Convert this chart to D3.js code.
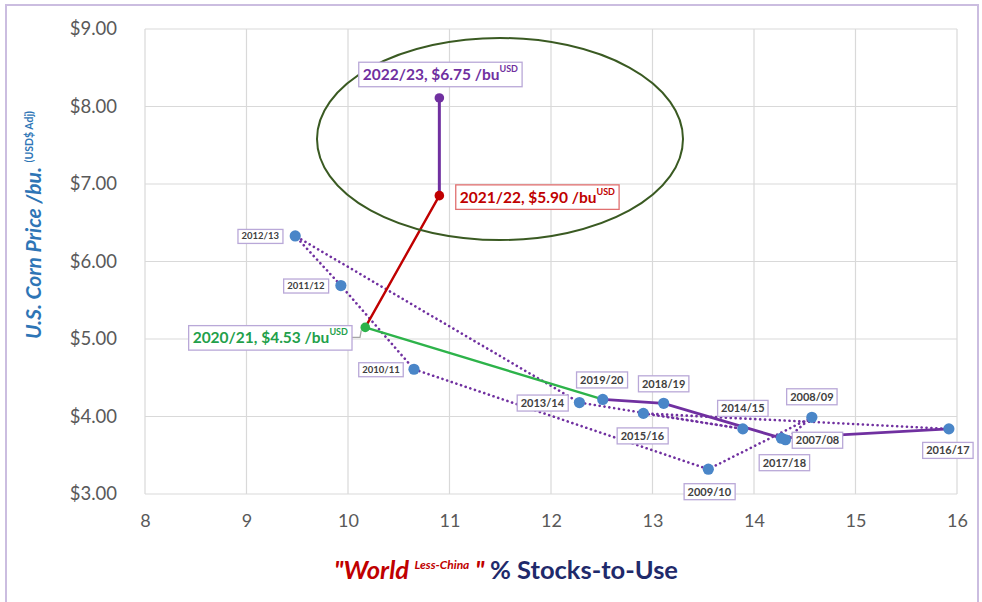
<!DOCTYPE html>
<html><head><meta charset="utf-8">
<script src="https://cdn.jsdelivr.net/npm/d3@7"></script>
<style>
html,body{margin:0;padding:0;background:#fff;}
svg{display:block;}
text{font-family:Lato,"Open Sans",sans-serif;}
</style></head>
<body>
<svg id="chart" width="982" height="602"></svg>
<script>
// ---------------- data ----------------
const seasons = ["2007/08","2008/09","2009/10","2010/11","2011/12","2012/13","2013/14","2014/15","2015/16","2016/17","2017/18","2018/19","2019/20","2020/21","2021/22","2022/23"];
const stocksToUse = [14.31,14.57,13.55,10.65,9.93,9.48,12.28,13.89,12.91,15.92,14.27,13.11,12.51,10.17,10.90,10.90];
const cornPrice = [3.70,3.99,3.32,4.61,5.69,6.33,4.18,3.84,4.04,3.84,3.72,4.17,4.22,5.15,6.85,8.11];
const xTicks = [8,9,10,11,12,13,14,15,16];
const yTicks = [3,4,5,6,7,8,9];
// highlighted seasons with their reported prices
const highlightSeasons = ["2020/21","2021/22","2022/23"];
const highlightPrices = ["$4.53","$5.90","$6.75"];

// ---------------- layout / style ----------------
const svg = d3.select("#chart");
const W = 982, H = 602;
const plot = {left:145, right:957, top:29, bottom:494};
const x = d3.scaleLinear().domain([8,16]).range([plot.left, plot.right]);
const y = d3.scaleLinear().domain([3,9]).range([plot.bottom, plot.top]);
const pts = seasons.map((s,i)=>({s, x:stocksToUse[i], y:cornPrice[i]}));
const byS = Object.fromEntries(pts.map(p=>[p.s,p]));

// outer frame
svg.append("rect").attr("width",W).attr("height",H).attr("fill","#fff");
svg.append("path").attr("d",`M6,${H+5} L6,5 L978,5 L978,${H+5}`)
  .attr("fill","none").attr("stroke","#cbbde0").attr("stroke-width",2);

// gridlines
const g = svg.append("g");
g.selectAll(".gx").data(xTicks).join("line")
  .attr("x1",d=>x(d)).attr("x2",d=>x(d)).attr("y1",plot.top).attr("y2",plot.bottom)
  .attr("stroke","#d9d9d9").attr("stroke-width",1.2);
g.selectAll(".gy").data(yTicks).join("line")
  .attr("x1",plot.left).attr("x2",plot.right).attr("y1",d=>y(d)).attr("y2",d=>y(d))
  .attr("stroke","#d9d9d9").attr("stroke-width",1.2);

// axes (labels only)
const xAxis = d3.axisBottom(x).tickValues(xTicks).tickSize(0).tickPadding(20).tickFormat(d3.format("d"));
const gx = svg.append("g").attr("transform",`translate(0,${plot.bottom})`).call(xAxis);
gx.select(".domain").remove();
gx.selectAll("text").attr("font-size",18).attr("fill","#595959").attr("font-family","Lato, sans-serif");
const yAxis = d3.axisLeft(y).tickValues(yTicks).tickSize(0).tickPadding(28).tickFormat(d=>"$"+d3.format(".2f")(d));
const gy = svg.append("g").attr("transform",`translate(${plot.left},0)`).call(yAxis);
gy.select(".domain").remove();
gy.selectAll("text").attr("font-size",18.5).attr("fill","#595959").attr("font-family","Lato, sans-serif");

// axis titles
const xt = svg.append("text").attr("x",506).attr("y",579).attr("text-anchor","middle")
  .attr("font-size",25.5).attr("font-weight","bold");
xt.append("tspan").attr("fill","#c00000").attr("font-style","italic").text("\"World ");
xt.append("tspan").attr("fill","#c00000").attr("font-style","italic").attr("font-size",12).attr("dy",-10).text("Less-China");
xt.append("tspan").attr("fill","#c00000").attr("font-style","italic").attr("dy",10).text(" \" ");
xt.append("tspan").attr("fill","#1f2a6b").text("% Stocks-to-Use");

const yt = svg.append("text").attr("transform","translate(41,225) rotate(-90)").attr("text-anchor","middle")
  .attr("font-size",21).attr("font-weight","bold").attr("font-style","italic").attr("fill","#2e75b6");
yt.append("tspan").text("U.S. Corn Price /bu. ");
yt.append("tspan").attr("font-size",10.5).attr("font-style","normal").attr("dy",-8).text("(USD$ Adj)");

// lines
const line = d3.line().x(d=>x(d.x)).y(d=>y(d.y));
const segs = [
  {from:0,to:9,color:"#7030a0",w:2.6,dash:"0.1,4.8"},
  {from:9,to:12,color:"#7030a0",w:2.8,dash:null},
  {from:12,to:13,color:"#2db34a",w:2.4,dash:null},
  {from:13,to:14,color:"#c00000",w:2.4,dash:null},
  {from:14,to:15,color:"#7030a0",w:3,dash:null}
];
segs.forEach(sg=>{
  svg.append("path").datum(pts.slice(sg.from,sg.to+1)).attr("d",line)
    .attr("fill","none").attr("stroke",sg.color).attr("stroke-width",sg.w)
    .attr("stroke-linecap","round").attr("stroke-dasharray",sg.dash);
});

// ellipse highlight
svg.append("ellipse").attr("cx",500).attr("cy",139).attr("rx",183).attr("ry",101)
  .attr("fill","none").attr("stroke","#3a5a22").attr("stroke-width",2);

// markers
const markerColor = {"2020/21":"#2db34a","2021/22":"#c00000","2022/23":"#7030a0"};
svg.selectAll(".pt").data(pts).join("circle")
  .attr("cx",d=>x(d.x)).attr("cy",d=>y(d.y))
  .attr("r",d=>markerColor[d.s]?4.8:5.6)
  .attr("fill",d=>markerColor[d.s]||"#4a86c8");

// labels: offset of box centre from the point (px)
const labelSpec = [
  {s:"2012/13",dx:-35,dy:0,fs:9.5},
  {s:"2011/12",dx:-35,dy:0,fs:9.5},
  {s:"2010/11",dx:-33,dy:0,fs:9.5},
  {s:"2013/14",dx:-37,dy:0,fs:11},
  {s:"2019/20",dx:-1,dy:-20,fs:11},
  {s:"2018/19",dx:0,dy:-20,fs:11},
  {s:"2015/16",dx:-1,dy:22,fs:11},
  {s:"2009/10",dx:1,dy:22,fs:11},
  {s:"2014/15",dx:0,dy:-21,fs:11},
  {s:"2008/09",dx:0,dy:-21,fs:11},
  {s:"2007/08",dx:32,dy:0,fs:11},
  {s:"2017/18",dx:3,dy:24,fs:11},
  {s:"2016/17",dx:-1,dy:21,fs:11}
];
const bigSpec = [
  {s:"2020/21",dx:-95,dy:10,color:"#22a04a",border:"#b9a8d8",leader:true},
  {s:"2021/22",dx:98,dy:1,color:"#c00000",border:"#e07070"},
  {s:"2022/23",dx:1,dy:-24,color:"#7030a0",border:"#b9a8d8"}
];
function boxLabel(cx,cy,build,padX,padY,border){
  const gL = svg.append("g");
  const r = gL.append("rect");
  const t = gL.append("text").attr("x",cx).attr("y",cy).attr("text-anchor","middle")
    .attr("dominant-baseline","central").attr("font-weight","bold");
  build(t);
  const bb = t.node().getBBox();
  r.attr("x",bb.x-padX).attr("y",cy-bb.height/2-padY+0.5).attr("width",bb.width+2*padX).attr("height",bb.height+2*padY)
   .attr("fill","#fff").attr("stroke",border).attr("stroke-width",1.3);
  return {x:bb.x-padX,w:bb.width+2*padX};
}
labelSpec.forEach(l=>{
  const p = byS[l.s];
  boxLabel(x(p.x)+l.dx, y(p.y)+l.dy, t=>t.attr("font-size",l.fs).attr("fill","#404040").text(l.s),3.5,1.5,"#b9a8d8");
});
bigSpec.forEach(l=>{
  const p = byS[l.s];
  const price = highlightPrices[highlightSeasons.indexOf(l.s)];
  const cx = x(p.x)+l.dx, cy = y(p.y)+l.dy;
  const b = boxLabel(cx, cy, t=>{
    t.attr("font-size",15.5).attr("fill",l.color);
    t.append("tspan").text(`${l.s}, ${price} /bu`);
    t.append("tspan").attr("font-size",9).attr("dy",-6).text("USD");
  },4,2,l.border);
  if(l.leader){
    const x0 = b.x+b.w, px = x(p.x), py = y(p.y);
    svg.insert("path","circle").attr("d",`M${x0},${cy} L${x0+8},${cy} L${px-4},${py+3}`)
      .attr("fill","none").attr("stroke","#a6a6a6").attr("stroke-width",1.3);
  }
});
</script>
</body></html>
